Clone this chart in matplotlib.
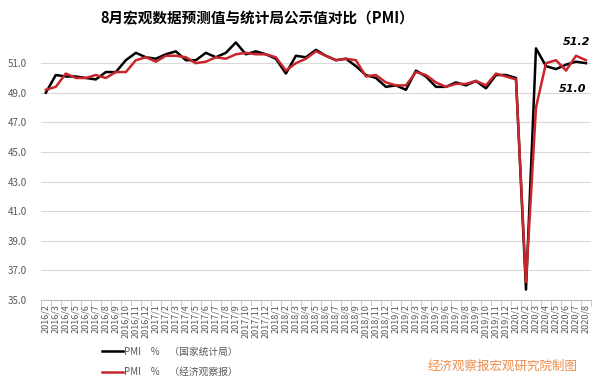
import matplotlib.pyplot as plt
import numpy as np

plt.rcParams['font.family'] = ['Noto Sans CJK SC', 'DejaVu Sans']

months = ['2016/2', '2016/3', '2016/4', '2016/5', '2016/6', '2016/7', '2016/8', '2016/9',
          '2016/10', '2016/11', '2016/12',
          '2017/1', '2017/2', '2017/3', '2017/4', '2017/5', '2017/6', '2017/7', '2017/8',
          '2017/9', '2017/10', '2017/11', '2017/12',
          '2018/1', '2018/2', '2018/3', '2018/4', '2018/5', '2018/6', '2018/7', '2018/8',
          '2018/9', '2018/10', '2018/11', '2018/12',
          '2019/1', '2019/2', '2019/3', '2019/4', '2019/5', '2019/6', '2019/7', '2019/8',
          '2019/9', '2019/10', '2019/11', '2019/12',
          '2020/1', '2020/2', '2020/3', '2020/4', '2020/5', '2020/6', '2020/7', '2020/8']

pmi_nbs = [49.0, 50.2, 50.1, 50.1, 50.0, 49.9, 50.4, 50.4, 51.2, 51.7, 51.4,
           51.3, 51.6, 51.8, 51.2, 51.2, 51.7, 51.4, 51.7, 52.4, 51.6, 51.8, 51.6,
           51.3, 50.3, 51.5, 51.4, 51.9, 51.5, 51.2, 51.3, 50.8, 50.2, 50.0, 49.4,
           49.5, 49.2, 50.5, 50.1, 49.4, 49.4, 49.7, 49.5, 49.8, 49.3, 50.2, 50.2,
           50.0, 35.7, 52.0, 50.8, 50.6, 50.9, 51.1, 51.0]

pmi_eeo = [49.2, 49.4, 50.3, 50.0, 50.0, 50.2, 50.0, 50.4, 50.4, 51.2, 51.4,
           51.1, 51.5, 51.5, 51.4, 51.0, 51.1, 51.4, 51.3, 51.6, 51.7, 51.6, 51.6,
           51.4, 50.5, 51.0, 51.3, 51.8, 51.5, 51.2, 51.3, 51.2, 50.1, 50.2, 49.7,
           49.5, 49.5, 50.4, 50.2, 49.7, 49.4, 49.6, 49.6, 49.8, 49.5, 50.3, 50.1,
           49.9, 36.2, 48.0, 51.0, 51.2, 50.5, 51.5, 51.2]

x = np.arange(len(months))

fig = plt.figure(figsize=(6, 3.86), dpi=100)
ax = fig.add_axes([0.068, 0.223, 0.917, 0.69])

ax.plot(x, pmi_nbs, color='black', lw=1.8, label='PMI　%　（国家统计局）')
ax.plot(x, pmi_eeo, color='#C8262C', lw=1.8, label='PMI　%　（经济观察报）')

ax.set_xlim(-0.5, len(months) - 0.5)
ax.set_ylim(35, 53)
ax.set_yticks(np.arange(35, 52, 2))
ax.set_yticklabels(['%.1f' % v for v in np.arange(35, 52, 2)])
ax.yaxis.grid(True, color='#D9D9D9', lw=0.8)
ax.set_axisbelow(True)

ax.set_xticks(x)
ax.set_xticklabels(months, rotation=90, fontsize=6.5, color='#595959')
ax.set_xticks(np.arange(-0.5, len(months), 1), minor=True)
ax.tick_params(axis='x', which='major', length=0, pad=3)
ax.tick_params(axis='x', which='minor', length=4, color='#BFBFBF', direction='out')
ax.tick_params(axis='y', length=0, labelsize=7, labelcolor='#595959', pad=10)

for s in ['top', 'right', 'left']:
    ax.spines[s].set_visible(False)
ax.spines['bottom'].set_color('#BFBFBF')

fig.text(0.428, 0.953, '8月宏观数据预测值与统计局公示值对比（PMI）', fontsize=10.5,
         fontweight='bold', ha='center', va='center')

# value labels for the latest month
ax.text(len(months) - 1.9, pmi_eeo[-1] + 1.2, '51.2', fontsize=8, fontweight='bold',
        fontstyle='italic', ha='center', va='center', family='DejaVu Sans')
ax.text(len(months) - 2.3, pmi_nbs[-1] - 1.75, '51.0', fontsize=8, fontweight='bold',
        fontstyle='italic', ha='center', va='center', family='DejaVu Sans')

leg = fig.legend(loc='lower left', bbox_to_anchor=(0.155, 0.0), frameon=False,
                 fontsize=7, handlelength=2.2, handletextpad=0.1, labelspacing=1.1)
for t in leg.get_texts():
    t.set_color('#595959')

fig.text(0.837, 0.05, '经济观察报宏观研究院制图', color='#EE8C4A', fontsize=9,
         ha='center', va='center')

fig.savefig('out.png', dpi=100)
